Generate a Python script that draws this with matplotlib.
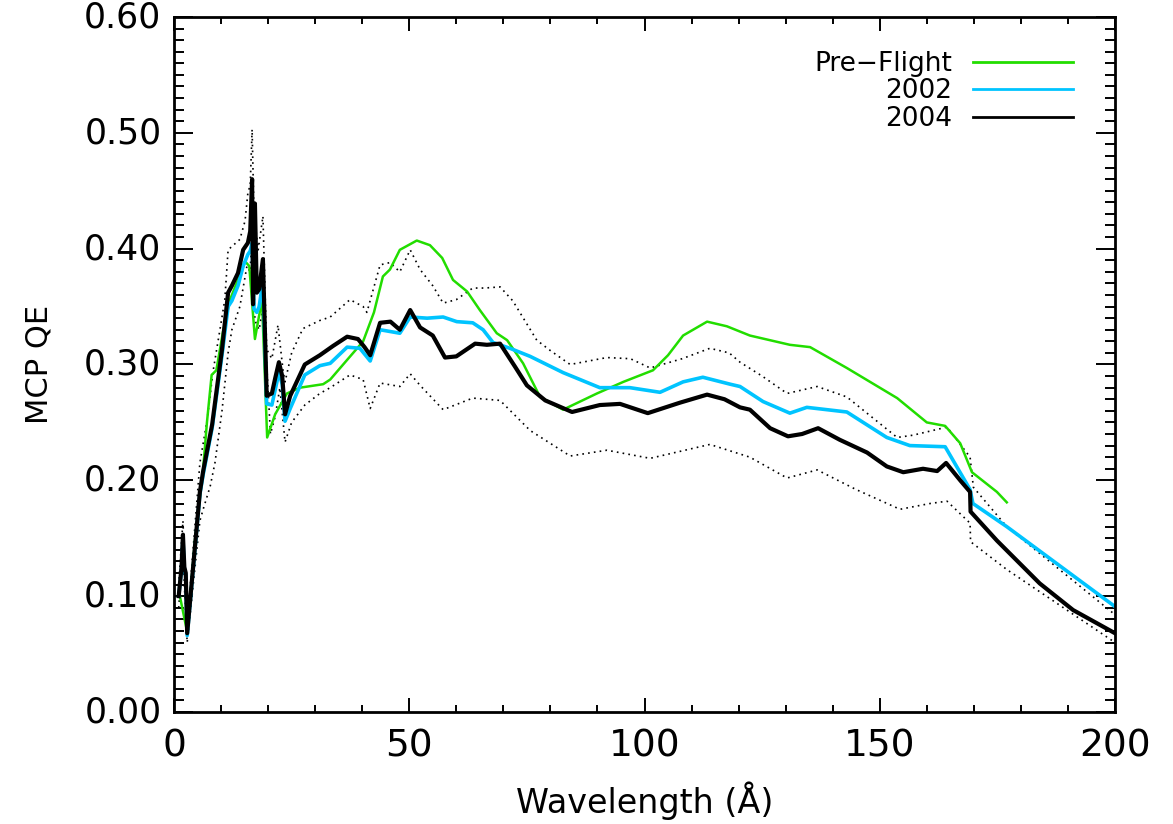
import matplotlib

matplotlib.use("Agg")
import matplotlib.pyplot as plt
import matplotlib.transforms as mtransforms
from matplotlib.ticker import MultipleLocator, FormatStrFormatter

GREEN = "#22dd00"
BLUE = "#00c4ff"
INK = "#000000"

# Pre-flight calibration
wl_pre = [1.3, 2.8, 4.5, 6.2, 7.0, 8.0, 9.0, 10.4, 11.9, 13.5, 15.1, 16.0, 17.2, 18.7,
          19.8, 21.5, 24.0, 26.8, 31.7, 33.2, 36.8, 40.2, 42.5, 44.4, 45.9, 48.0, 51.6,
          54.4, 57.0, 59.3, 62.3, 65.0, 68.6, 70.8, 74.2, 77.8, 82.7, 89.9, 95.5, 101.8,
          105.0, 108.2, 113.3, 117.5, 122.4, 130.9, 135.2, 143.0, 153.7, 160.0, 163.9,
          167.1, 169.6, 174.9, 177.0]
qe_pre = [0.099, 0.069, 0.150, 0.210, 0.250, 0.291, 0.295, 0.328, 0.356, 0.372, 0.389,
          0.385, 0.322, 0.356, 0.237, 0.257, 0.275, 0.280, 0.283, 0.287, 0.304, 0.320,
          0.345, 0.376, 0.382, 0.399, 0.407, 0.403, 0.392, 0.373, 0.363, 0.347, 0.327,
          0.321, 0.301, 0.272, 0.261, 0.275, 0.285, 0.295, 0.308, 0.325, 0.337, 0.333,
          0.325, 0.317, 0.315, 0.297, 0.271, 0.250, 0.247, 0.232, 0.207, 0.190, 0.181]

# 2002 in-flight
wl_02 = [1.0, 1.6, 1.9, 2.2, 2.5, 2.8, 5.5, 6.2, 8.1, 10.2, 11.5, 12.3, 13.6, 14.7, 15.7,
         16.2, 16.6, 17.0, 17.6, 18.1, 18.9, 19.7, 20.8, 21.5, 22.3, 23.0, 23.6, 24.7,
         27.8, 31.0, 33.2, 36.8, 39.5, 41.7, 43.8, 48.0, 50.2, 53.8, 57.2, 60.1, 63.5,
         65.7, 67.8, 71.4, 75.7, 82.7, 90.5, 96.9, 103.3, 108.2, 112.4, 118.2, 120.3,
         125.2, 130.9, 134.5, 143.0, 151.5, 156.4, 163.9, 169.2, 169.8, 177.0, 200.0]
qe_02 = [0.100, 0.123, 0.150, 0.123, 0.118, 0.066, 0.188, 0.205, 0.245, 0.308, 0.350,
         0.355, 0.368, 0.385, 0.395, 0.398, 0.405, 0.348, 0.345, 0.350, 0.372, 0.266,
         0.265, 0.278, 0.293, 0.283, 0.251, 0.262, 0.291, 0.299, 0.301, 0.315, 0.314,
         0.303, 0.330, 0.327, 0.341, 0.340, 0.341, 0.337, 0.336, 0.330, 0.319, 0.314,
         0.307, 0.293, 0.280, 0.280, 0.276, 0.285, 0.289, 0.283, 0.281, 0.268, 0.258,
         0.263, 0.259, 0.237, 0.230, 0.229, 0.192, 0.180, 0.160, 0.091]

# 2004 in-flight
wl_04 = [1.0, 1.6, 1.9, 2.2, 2.5, 2.8, 5.5, 6.2, 8.1, 10.2, 11.5, 12.3, 13.6, 14.7, 15.7,
         16.2, 16.6, 16.8, 17.2, 17.6, 18.1, 18.9, 19.7, 20.8, 21.5, 22.3, 23.0, 23.6,
         24.7, 27.8, 31.0, 33.8, 36.8, 39.1, 40.5, 41.7, 43.8, 46.0, 48.0, 50.2, 52.3,
         55.0, 57.6, 60.0, 64.0, 66.5, 69.3, 72.5, 75.0, 78.9, 84.6, 90.5, 94.8, 100.7,
         107.5, 113.3, 117.0, 120.3, 122.4, 126.7, 130.5, 133.5, 136.9, 141.5, 147.3,
         151.5, 155.0, 159.2, 162.2, 164.1, 167.1, 169.2, 169.3, 174.9, 184.0, 191.1, 200.0]
qe_04 = [0.100, 0.125, 0.153, 0.125, 0.120, 0.068, 0.190, 0.208, 0.248, 0.313, 0.362,
         0.368, 0.379, 0.399, 0.405, 0.415, 0.460, 0.352, 0.439, 0.362, 0.365, 0.391,
         0.273, 0.275, 0.288, 0.302, 0.290, 0.257, 0.273, 0.300, 0.308, 0.316, 0.324,
         0.322, 0.315, 0.308, 0.336, 0.337, 0.330, 0.347, 0.332, 0.325, 0.306, 0.307,
         0.318, 0.317, 0.318, 0.298, 0.282, 0.269, 0.259, 0.265, 0.266, 0.258, 0.267,
         0.274, 0.270, 0.263, 0.261, 0.245, 0.238, 0.240, 0.245, 0.235, 0.224, 0.212,
         0.207, 0.210, 0.208, 0.215, 0.200, 0.190, 0.173, 0.148, 0.111, 0.088, 0.068]

# 2004 upper / lower uncertainty envelope
wl_hi = [1.0, 1.9, 2.2, 2.8, 5.5, 7.0, 8.3, 9.8, 10.8, 11.5, 14.0, 15.1, 15.7, 16.2, 16.6,
         17.0, 17.9, 18.9, 19.7, 20.8, 22.1, 23.2, 23.6, 25.0, 27.4, 31.0, 33.2, 37.4,
         40.2, 41.0, 43.8, 45.9, 48.0, 50.2, 52.3, 55.0, 57.2, 60.0, 63.5, 66.0, 69.3,
         72.0, 75.0, 77.1, 80.0, 84.2, 92.0, 97.0, 101.2, 108.0, 113.9, 118.0, 120.3,
         125.0, 130.3, 136.7, 143.0, 153.7, 157.1, 164.3, 169.2, 169.9, 177.0, 200.0]
qe_hi = [0.110, 0.165, 0.135, 0.075, 0.215, 0.251, 0.294, 0.331, 0.356, 0.399, 0.408,
         0.424, 0.448, 0.455, 0.503, 0.430, 0.399, 0.428, 0.313, 0.305, 0.334, 0.294,
         0.285, 0.310, 0.331, 0.338, 0.341, 0.356, 0.350, 0.345, 0.386, 0.388, 0.380,
         0.399, 0.382, 0.368, 0.353, 0.356, 0.366, 0.366, 0.367, 0.355, 0.335, 0.321,
         0.312, 0.300, 0.306, 0.305, 0.297, 0.305, 0.314, 0.310, 0.302, 0.290, 0.275,
         0.281, 0.272, 0.237, 0.239, 0.246, 0.220, 0.194, 0.160, 0.084]
wl_lo = [1.0, 1.9, 2.2, 2.8, 5.5, 6.2, 7.7, 8.7, 10.2, 11.5, 12.3, 14.0, 15.5, 16.2, 16.6,
         17.2, 18.1, 18.9, 19.7, 20.5, 21.5, 22.5, 23.6, 25.0, 27.8, 31.0, 33.2, 37.4,
         40.2, 41.7, 43.8, 48.0, 50.2, 52.3, 57.2, 63.5, 69.3, 75.7, 84.2, 92.0, 101.2,
         113.9, 122.4, 130.3, 136.7, 145.0, 154.3, 160.7, 164.3, 169.2, 169.3, 177.0, 200.0]
qe_lo = [0.090, 0.140, 0.110, 0.060, 0.165, 0.175, 0.195, 0.215, 0.260, 0.310, 0.330,
         0.350, 0.385, 0.380, 0.420, 0.338, 0.330, 0.350, 0.300, 0.240, 0.255, 0.280,
         0.233, 0.250, 0.265, 0.275, 0.280, 0.291, 0.287, 0.262, 0.284, 0.281, 0.292,
         0.282, 0.261, 0.271, 0.269, 0.243, 0.221, 0.226, 0.219, 0.231, 0.220, 0.202,
         0.209, 0.192, 0.175, 0.180, 0.182, 0.163, 0.147, 0.123, 0.060]

plt.rcParams["font.family"] = ["DejaVu Sans"]

fig = plt.figure(figsize=(11.73, 8.24), dpi=100)
ax = fig.add_axes([174 / 1173, 112 / 824, 941 / 1173, 695 / 824])

dots = dict(color=INK, lw=1.2, ls=(0, (1, 2.5)))
ax.plot(wl_hi, qe_hi, **dots)
ax.plot(wl_lo, qe_lo, **dots)
ax.plot(wl_pre, qe_pre, color=GREEN, lw=1.8, label="Pre\u2212Flight")
ax.plot(wl_02, qe_02, color=BLUE, lw=2.6, label="2002")
ax.plot(wl_04, qe_04, color=INK, lw=3.0, label="2004")

ax.set_xlim(0, 200)
ax.set_ylim(0, 0.6)
ax.xaxis.set_major_locator(MultipleLocator(50))
ax.xaxis.set_minor_locator(MultipleLocator(10))
ax.yaxis.set_major_locator(MultipleLocator(0.1))
ax.yaxis.set_minor_locator(MultipleLocator(0.01))
ax.yaxis.set_major_formatter(FormatStrFormatter("%.2f"))

for s in ax.spines.values():
    s.set_linewidth(2.0)
ax.tick_params(which="both", direction="in", top=True, right=True, width=1.4)
ax.tick_params(axis="x", which="major", length=10, pad=12, labelsize=27)
ax.tick_params(axis="x", which="minor", length=5)
ax.tick_params(axis="y", which="major", length=14, pad=9, labelsize=25)
ax.tick_params(axis="y", which="minor", length=7)
# nudge the value labels a little above their ticks
shift = mtransforms.ScaledTranslation(0, 3 / 100, fig.dpi_scale_trans)
for lab in ax.get_yticklabels():
    lab.set_transform(lab.get_transform() + shift)

ax.set_xlabel("Wavelength (\u00c5)", fontsize=24, labelpad=12)
ax.set_ylabel("MCP QE", fontsize=22, labelpad=22)

leg = ax.legend(loc="upper right", bbox_to_anchor=(0.981, 0.985), frameon=False,
                markerfirst=False, fontsize=19, handlelength=3.8, handletextpad=0.8,
                labelspacing=0.05)
for line in leg.get_lines():
    line.set_linewidth(2.0)

fig.savefig("out.png", dpi=100, facecolor="white")
